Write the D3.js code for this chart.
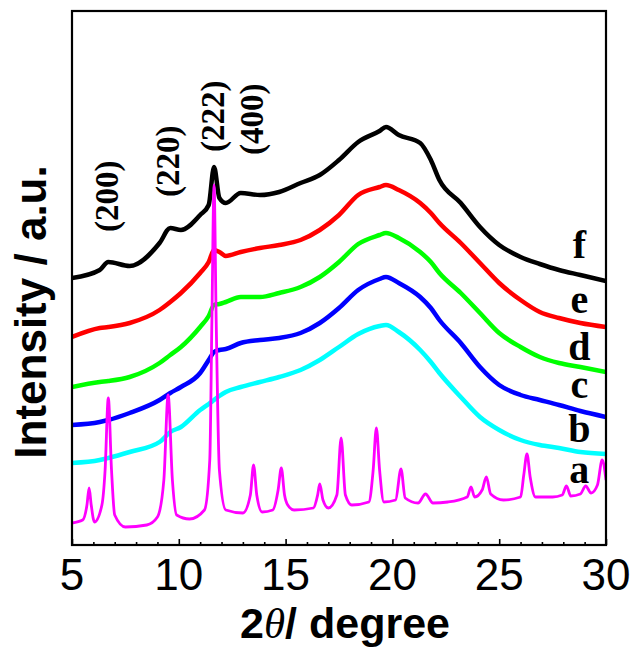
<!DOCTYPE html>
<html>
<head>
<meta charset="utf-8">
<script src="https://d3js.org/d3.v7.min.js"></script>
<style>
  body { margin: 0; background: #fff; }
  .tick-label { font-family: "Liberation Sans", Arial, sans-serif; font-size: 44px; }
  .axis-title { font-family: "Liberation Sans", Arial, sans-serif; font-weight: bold; }
  .serif-bold { font-family: "Liberation Serif", "Times New Roman", serif; font-weight: bold; }
</style>
</head>
<body>
<script>
// 2theta grid shared by the amorphous curves (b..f)
const twoTheta = [5.0, 6.3, 6.7, 7.7, 9.1, 9.6, 10.1, 11.0, 11.4, 11.65, 11.9, 12.2, 12.9, 13.8, 14.7, 15.7,
  16.6, 17.5, 18.4, 19.4, 19.7, 20.3, 21.3, 21.8, 22.2, 23.2, 24.1, 25.0, 26.0, 26.9, 27.8, 28.8, 30.0];

const curveF = [267, 275, 283, 279, 302, 317, 315, 330, 340, 378, 347, 342, 352, 350, 353, 362,
  370, 385, 403, 414, 418, 410, 402, 385, 365, 342, 318, 300, 288, 281, 275, 270, 264];
const curveE = [208, 217, 218, 222, 235, 243, 252, 272, 283, 295, 293, 289, 293, 297, 300, 305,
  315, 330, 350, 358, 360, 355, 342, 332, 322, 302, 282, 262, 245, 233, 227, 222, 218];
const curveD = [158, 163, 164, 168, 182, 190, 198, 218, 229, 240, 241, 243, 248, 248, 252, 258,
  268, 283, 301, 310, 312, 307, 293, 283, 272, 252, 232, 212, 198, 188, 182, 178, 173];
const curveC = [120, 123, 125, 132, 145, 152, 158, 172, 185, 193, 195, 196, 202, 205, 207, 212,
  222, 237, 255, 266, 268, 262, 248, 237, 225, 202, 178, 160, 150, 145, 140, 134, 128];
const curveB = [82, 85, 87, 93, 103, 113, 118, 135, 141, 145, 149, 153, 158, 163, 168, 175,
  185, 198, 211, 219, 220, 213, 195, 183, 172, 148, 128, 115, 105, 100, 97, 93, 91];

// crystalline curve a has its own sampling around the peaks
const thetaA = [5.0, 5.5, 5.7, 5.8, 5.9, 6.05, 6.4, 6.55, 6.7, 6.85, 7.0, 7.5, 8.5, 9.0, 9.3, 9.5, 9.7, 9.9,
  10.5, 11.2, 11.45, 11.55, 11.65, 11.75, 11.9, 12.2, 13.0, 13.35, 13.5, 13.65, 13.9, 14.4, 14.65, 14.8,
  14.95, 15.1, 15.4, 16.3, 16.5, 16.6, 16.75, 17.0, 17.4, 17.6, 17.8, 18.1, 18.9, 19.1, 19.25, 19.4, 19.6,
  20.15, 20.4, 20.6, 21.2, 21.55, 21.9, 22.6, 23.5, 23.68, 23.85, 24.2, 24.4, 24.6, 25.2, 26.0, 26.15,
  26.3, 26.45, 26.7, 27.5, 27.95, 28.15, 28.35, 28.8, 29.05, 29.3, 29.6, 29.82, 30.0];
const curveA = [22, 25, 40, 57, 40, 23, 40, 75, 147, 75, 30, 18, 20, 28, 65, 150, 65, 30,
  26, 35, 85, 225, 360, 225, 75, 35, 32, 50, 80, 50, 33, 35, 55, 77,
  50, 40, 35, 37, 50, 61, 45, 37, 50, 107, 50, 40, 43, 75, 117, 75, 43,
  45, 76, 47, 42, 51, 42, 43, 48, 58, 48, 55, 68, 51, 45, 48, 70,
  91, 68, 48, 48, 50, 59, 49, 51, 59, 52, 60, 85, 65];

const seriesNames = ["a", "b", "c", "d", "e", "f"];
const seriesColors = ["#ff00ff", "#00ffff", "#0000ff", "#00ff00", "#ff0000", "#000000"];
const peakLabels = ["(200)", "(220)", "(222)", "(400)"];
const peakLabelPos = [6.6, 9.45, 11.55, 13.4];
const peakLabelEnd = [313, 348, 393, 390];
const xTicks = [5, 10, 15, 20, 25, 30];

const width = 639, height = 655;
const margin = { left: 72, right: 33, top: 11, bottom: 110 };
const plotW = width - margin.left - margin.right;
const plotH = height - margin.top - margin.bottom;

const svg = d3.select("body").append("svg")
  .attr("width", width)
  .attr("height", height);

const x = d3.scaleLinear().domain([5, 30]).range([margin.left, margin.left + plotW]);
const y = d3.scaleLinear().domain([0, plotH]).range([margin.top + plotH, margin.top]);

svg.append("clipPath").attr("id", "plotclip")
  .append("rect")
  .attr("x", margin.left).attr("y", margin.top)
  .attr("width", plotW).attr("height", plotH);

const line = d3.line()
  .x(d => x(d[0]))
  .y(d => y(d[1]))
  .curve(d3.curveMonotoneX);

const amorphous = [curveB, curveC, curveD, curveE, curveF];
const g = svg.append("g").attr("clip-path", "url(#plotclip)");

amorphous.forEach((vals, i) => {
  g.append("path")
    .datum(twoTheta.map((t, j) => [t, vals[j]]))
    .attr("fill", "none")
    .attr("stroke", seriesColors[i + 1])
    .attr("stroke-width", 4.5)
    .attr("stroke-linejoin", "round")
    .attr("d", line);
});

g.append("path")
  .datum(thetaA.map((t, j) => [t, curveA[j]]))
  .attr("fill", "none")
  .attr("stroke", seriesColors[0])
  .attr("stroke-width", 2.8)
  .attr("stroke-linejoin", "round")
  .attr("d", line);

// frame
svg.append("rect")
  .attr("x", margin.left).attr("y", margin.top)
  .attr("width", plotW).attr("height", plotH)
  .attr("fill", "none")
  .attr("stroke", "#000")
  .attr("stroke-width", 2.2);

// bottom axis, ticks pointing inward
const xAxis = d3.axisBottom(x)
  .tickValues(d3.range(5, 31, 1))
  .tickSize(0)
  .tickFormat("");
const axisG = svg.append("g")
  .attr("transform", `translate(0,${margin.top + plotH})`)
  .call(xAxis);
axisG.select(".domain").remove();
axisG.selectAll(".tick line")
  .attr("y2", d => d % 5 === 0 ? -6 : -3)
  .attr("stroke", "#000")
  .attr("stroke-width", 1.6);

svg.append("g").selectAll("text")
  .data(xTicks)
  .join("text")
  .attr("class", "tick-label")
  .attr("x", d => x(d))
  .attr("y", 590)
  .attr("text-anchor", "middle")
  .text(d => d);

// axis titles
const xt = svg.append("text")
  .attr("class", "axis-title")
  .attr("x", 345)
  .attr("y", 638)
  .attr("text-anchor", "middle")
  .attr("font-size", 43);
xt.append("tspan").text("2");
xt.append("tspan").attr("font-family", "'Liberation Serif', serif").attr("font-style", "italic").attr("font-weight", "normal").text("θ");
xt.append("tspan").text("/ degree");

svg.append("text")
  .attr("class", "axis-title")
  .attr("transform", "translate(46,312) rotate(-90)")
  .attr("text-anchor", "middle")
  .attr("font-size", 44)
  .text("Intensity / a.u.");

// peak labels
svg.append("g").selectAll("text")
  .data(peakLabels)
  .join("text")
  .attr("class", "serif-bold")
  .attr("font-size", 33)
  .attr("transform", (d, i) => `translate(${x(peakLabelPos[i]) + 12},${y(peakLabelEnd[i])}) rotate(-90)`)
  .text(d => d);

// curve labels
const labelBase = [62, 103, 147, 185, 232, 287];
svg.append("g").selectAll("text")
  .data(seriesNames)
  .join("text")
  .attr("class", "serif-bold")
  .attr("font-size", 40)
  .attr("x", x(28.75))
  .attr("y", (d, i) => y(labelBase[i]))
  .attr("text-anchor", "middle")
  .text(d => d);
</script>
</body>
</html>
